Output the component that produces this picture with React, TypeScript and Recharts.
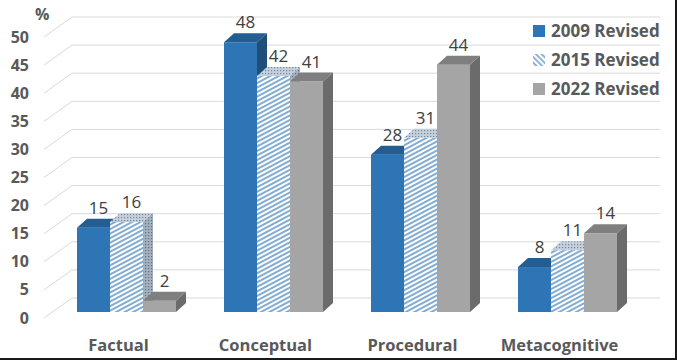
import { BarChart, Bar, XAxis, YAxis, CartesianGrid, LabelList } from "recharts";

const categories = ["Factual", "Conceptual", "Procedural", "Metacognitive"];
const revised2009 = [15, 48, 28, 8];
const revised2015 = [16, 42, 31, 11];
const revised2022 = [2, 41, 44, 14];
const yTicks = [0, 5, 10, 15, 20, 25, 30, 35, 40, 45, 50];
const seriesNames = ["2009 Revised", "2015 Revised", "2022 Revised"];

const data = categories.map((category, i) => ({
  category,
  r2009: revised2009[i],
  r2015: revised2015[i],
  r2022: revised2022[i],
}));

const FONT = "'Open Sans', 'Noto Sans', sans-serif";
const TEXT = "#595959";
// depth of the fake 3d bars
const DX = 10;
const DY = 9;

function make3dBar(front: string, top: string, side: string) {
  return (props: any) => {
    const { x, y, width, height } = props;
    if (width == null || height == null) return <g />;
    return (
      <g>
        <rect x={x} y={y} width={width} height={height} fill={front} />
        <polygon
          points={`${x},${y} ${x + DX},${y - DY} ${x + width + DX},${y - DY} ${x + width},${y}`}
          fill={top}
        />
        <polygon
          points={`${x + width},${y} ${x + width + DX},${y - DY} ${x + width + DX},${y + height - DY} ${x + width},${y + height}`}
          fill={side}
        />
      </g>
    );
  };
}

const blueBar = make3dBar("#2e75b6", "#245d92", "#1f4e79");
const hatchBar = make3dBar("url(#hatchFront)", "url(#dotsTop)", "url(#dotsSide)");
const grayBar = make3dBar("#a5a5a5", "#7f7f7f", "#6b6b6b");

const renderValue = (props: any) => {
  const { x, y, width, value } = props;
  return (
    <text
      x={x + width / 2 + 5}
      y={y - 14}
      textAnchor="middle"
      fill="#404040"
      fontSize={17}
      fontFamily={FONT}
    >
      {value}
    </text>
  );
};

const renderYTick = (props: any) => {
  const { y, payload } = props;
  return (
    <text x={29} y={y + 6} dy={5.5} textAnchor="end" fill={TEXT} fontSize={16} fontWeight="bold" fontFamily={FONT}>
      {payload.value}
    </text>
  );
};

const renderXTick = (props: any) => {
  const { x, y, payload } = props;
  return (
    <text x={x - 8} y={y} dy={31} textAnchor="middle" fill={TEXT} fontSize={16.5} fontWeight="bold" fontFamily={FONT}>
      {payload.value}
    </text>
  );
};

// gridline with a slanted segment on the side wall
const renderGridLine = (props: any) => {
  const { x1, y1, x2, index } = props;
  return (
    <polyline
      key={`grid-${index}`}
      points={`${x1 - 9},${y1 + 6} ${x1 + 19},${y1 - 14} ${x2 + 19},${y1 - 14}`}
      fill="none"
      stroke="#d9d9d9"
      strokeWidth={1}
    />
  );
};

function LegendIcon({ index }: { index: number }) {
  if (index === 1) {
    return (
      <svg width={12} height={12} style={{ marginRight: 6 }}>
        <defs>
          <pattern id="legendHatch" width={4} height={4} patternUnits="userSpaceOnUse" patternTransform="rotate(45)">
            <line x1={0} y1={2} x2={4} y2={2} stroke="#2e75b6" strokeWidth={1.1} />
          </pattern>
        </defs>
        <rect width={12} height={12} fill="url(#legendHatch)" />
      </svg>
    );
  }
  return (
    <svg width={12} height={12} style={{ marginRight: 6 }}>
      <rect width={12} height={12} fill={index === 0 ? "#2e75b6" : "#a5a5a5"} />
    </svg>
  );
}

export default function App() {
  return (
    <div
      style={{
        position: "absolute",
        left: 0,
        top: 0,
        width: 677,
        height: 360,
        background: "#fff",
        borderRight: "2px solid #1a1a1a",
        borderBottom: "2px solid #1a1a1a",
        boxSizing: "border-box",
        fontFamily: FONT,
      }}
    >
      <div style={{ position: "absolute", left: 0, top: 0 }}>
        <BarChart
          width={677}
          height={360}
          data={data}
          barGap={0}
          margin={{ top: 31, right: 36, bottom: 0, left: 0 }}
        >
          <defs>
            <pattern id="hatchFront" width={10} height={4} patternUnits="userSpaceOnUse" patternTransform="rotate(-28)">
              <rect width={10} height={4} fill="#ffffff" />
              <line x1={0} y1={2} x2={10} y2={2} stroke="#2e75b6" strokeWidth={1.2} />
            </pattern>
            <pattern id="dotsTop" width={3} height={3} patternUnits="userSpaceOnUse">
              <rect width={3} height={3} fill="#c5d0dc" />
              <rect x={1} y={1} width={1.2} height={1.2} fill="#7389a0" />
            </pattern>
            <pattern id="dotsSide" width={3} height={3} patternUnits="userSpaceOnUse">
              <rect width={3} height={3} fill="#a3b0bd" />
              <rect x={1} y={1} width={1.2} height={1.2} fill="#5d7085" />
            </pattern>
          </defs>
          <CartesianGrid vertical={false} horizontal={renderGridLine} />
          <XAxis
            dataKey="category"
            height={48}
            axisLine={false}
            tickLine={false}
            tick={renderXTick}
            interval={0}
          />
          <YAxis
            domain={[0, 50]}
            ticks={yTicks}
            width={53}
            axisLine={false}
            tickLine={false}
            tick={renderYTick}
            interval={0}
          />
          <Bar dataKey="r2009" barSize={33} shape={blueBar} isAnimationActive={false}>
            <LabelList dataKey="r2009" content={renderValue} />
          </Bar>
          <Bar dataKey="r2015" barSize={33} shape={hatchBar} isAnimationActive={false}>
            <LabelList dataKey="r2015" content={renderValue} />
          </Bar>
          <Bar dataKey="r2022" barSize={33} shape={grayBar} isAnimationActive={false}>
            <LabelList dataKey="r2022" content={renderValue} />
          </Bar>
        </BarChart>
      </div>
      <div
        style={{
          position: "absolute",
          left: 35,
          top: 3,
          fontSize: 16,
          fontWeight: "bold",
          color: TEXT,
        }}
      >
        %
      </div>
      <div style={{ position: "absolute", left: 533, top: 16 }}>
        {seriesNames.map((name, i) => (
          <div
            key={name}
            style={{
              display: "flex",
              alignItems: "center",
              height: 29,
              fontSize: 17,
              fontWeight: "bold",
              color: TEXT,
              whiteSpace: "nowrap",
            }}
          >
            <LegendIcon index={i} />
            {name}
          </div>
        ))}
      </div>
    </div>
  );
}
